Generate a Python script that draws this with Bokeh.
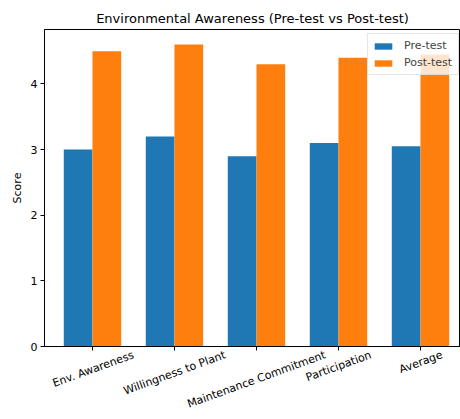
import math
import numpy as np
from bokeh.plotting import figure
from bokeh.models import (ColumnDataSource, Range1d, FixedTicker, LinearAxis, Legend,
                          LegendItem)
from bokeh.transform import dodge
from bokeh.embed import file_html
from bokeh.resources import INLINE

categories = ["Env. Awareness", "Willingness to Plant", "Maintenance Commitment", "Participation", "Average"]
pre_test = [3.0, 3.2, 2.9, 3.1, 3.05]
post_test = [4.5, 4.6, 4.3, 4.4, 4.45]

FONT = "DejaVu Sans"
BAR_W = 0.35
W, H = 460, 419
BL, BR, BT, BB = 44, 0, 29, 73
X0, X1 = -0.585, 4.488

src = ColumnDataSource(dict(x=list(range(len(categories))), pre=pre_test, post=post_test))

p = figure(width=W, height=H, output_backend="svg", toolbar_location=None,
           x_range=Range1d(X0, X1), y_range=Range1d(0, max(post_test) * 1.05),
           min_border_left=BL, min_border_right=BR, min_border_top=BT, min_border_bottom=BB)

r_pre = p.vbar(x=dodge("x", -BAR_W / 2), top="pre", width=BAR_W, source=src,
               fill_color="#1f77b4", line_color=None)
r_post = p.vbar(x=dodge("x", BAR_W / 2), top="post", width=BAR_W, source=src,
                fill_color="#ff7f0e", line_color=None)

p.title.text = "Environmental Awareness (Pre-test vs Post-test)"
p.title.align = "center"
p.title.offset = 4
p.title.text_font = FONT
p.title.text_font_size = "13px"
p.title.text_font_style = "normal"
p.title.text_color = "#000000"
p.title.standoff = 8

p.xgrid.visible = False
p.ygrid.visible = False
p.outline_line_color = "#000000"
p.outline_line_width = 1

for ax in (p.xaxis[0], p.yaxis[0]):
    ax.axis_line_color = "#000000"
    ax.major_tick_line_color = "#000000"
    ax.major_tick_out = 4
    ax.major_tick_in = 0
    ax.minor_tick_line_color = None
    ax.major_label_text_font = FONT
    ax.major_label_text_font_size = "11px"
    ax.major_label_text_color = "#000000"

# tick marks only on the first x axis
tick_pos = list(range(len(categories)))
p.xaxis.ticker = FixedTicker(ticks=tick_pos)
p.xaxis.major_label_overrides = {t: "" for t in tick_pos}
p.xaxis.major_label_text_font_size = "0px"
p.xaxis.major_label_standoff = 0
p.yaxis.ticker = FixedTicker(ticks=[0, 1, 2, 3, 4])
p.yaxis.major_label_standoff = 3
p.yaxis.axis_label = "Score"
p.yaxis.axis_label_text_font = FONT
p.yaxis.axis_label_text_font_size = "11px"
p.yaxis.axis_label_text_font_style = "normal"
p.yaxis.axis_label_text_color = "#000000"
p.yaxis.axis_label_standoff = 4

# approximate DejaVu Sans advance widths (em/1000) to centre rotated labels
ADV = {" ": 318, ".": 318, "a": 613, "b": 635, "c": 550, "d": 635, "e": 615, "f": 352,
       "g": 635, "h": 634, "i": 278, "l": 278, "m": 974, "n": 634, "o": 612, "p": 635,
       "r": 411, "s": 521, "t": 392, "u": 634, "v": 592, "w": 818, "y": 592, "A": 684,
       "C": 698, "E": 632, "M": 863, "P": 603, "W": 989}
FS = 11
ang = math.radians(20)
ppu = (W - BL - BR) / (X1 - X0)
shifted, overrides = [], {}
for i, name in enumerate(categories):
    w = sum(ADV.get(c, 600) for c in name) / 1000 * FS
    t = round(i + (w / 2) * math.cos(ang) / ppu, 3)
    shifted.append(t)
    overrides[t] = name

ax2 = LinearAxis(ticker=FixedTicker(ticks=shifted), major_label_overrides=overrides,
                 major_label_orientation=ang, axis_line_color=None,
                 major_tick_line_color=None, minor_tick_line_color=None,
                 major_tick_out=0, major_tick_in=0, major_label_standoff=4,
                 major_label_text_font=FONT, major_label_text_font_size="11px",
                 major_label_text_color="#000000")
p.add_layout(ax2, "below")

legend = Legend(items=[LegendItem(label="Pre-test", renderers=[r_pre]),
                       LegendItem(label="Post-test", renderers=[r_post])],
                location=(323, 271))
legend.label_text_font = FONT
legend.label_text_font_size = "11px"
legend.glyph_width = 22
legend.glyph_height = 8
legend.label_height = 15
legend.label_width = 50
legend.label_standoff = 10
legend.spacing = 2
legend.padding = 4
legend.margin = 0
legend.border_line_color = "#cccccc"
legend.background_fill_alpha = 0.8
p.add_layout(legend)

open("out.html", "w").write(file_html(p, INLINE))
